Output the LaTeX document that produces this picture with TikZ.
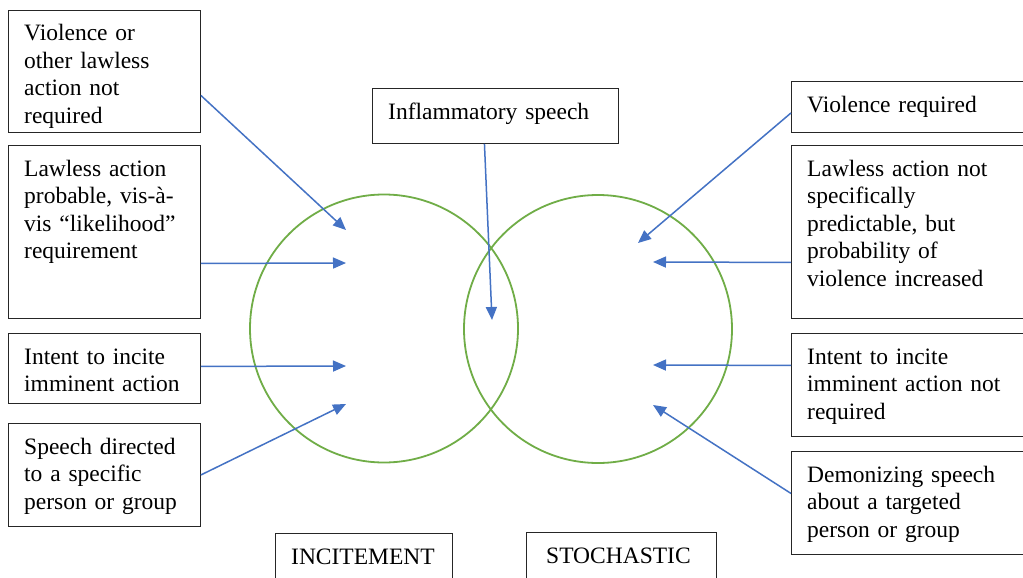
\documentclass[tikz,border=0pt]{standalone}
\usepackage{fontspec}
\setmainfont{Liberation Serif}
\usetikzlibrary{arrows.meta}
\definecolor{arrblue}{HTML}{4472C4}
\definecolor{circgreen}{HTML}{70AD47}
\tikzset{
  boxnode/.style={draw=black!85, line width=0.9pt, rectangle, inner sep=0pt, anchor=north west},
  txt/.style={inner sep=0pt, anchor=base west, text width=260pt, align=left, font=\fontsize{23.5}{27.5}\selectfont},
  conn/.style={draw=arrblue, line width=1.5pt, -{Triangle[length=13pt,width=11pt]}},
  venn/.style={draw=circgreen, line width=1.8pt}
}
\newcommand\bx[7][16]{%
  \node[boxnode, minimum width=#5pt, minimum height=#6pt] (#2) at (#3,#4) {};
  \node[txt] (#2t) at ([xshift=#1pt,yshift=-31pt]#2.north west) {#7};
}
\begin{document}
\begin{tikzpicture}[x=1pt,y=-1pt]
\clip (0,0) rectangle (1023,578);
\fill[white] (0,0) rectangle (1023,578);

% circles
\node[venn, circle, minimum size=268pt, inner sep=0pt] (lc) at (384,328.5) {};
\node[venn, circle, minimum size=268pt, inner sep=0pt] (rc) at (598,329) {};

% left boxes
\bx{b1}{8}{10}{192}{122}{Violence or\\other lawless\\action not\\required}
\bx{b2}{8}{145}{192}{173}{Lawless action\\probable, vis-à-\\vis “likelihood”\\requirement}
\bx{b3}{8}{333}{192}{70}{Intent to incite\\imminent action}
\bx{b4}{8}{423}{192}{103}{Speech directed\\to a specific\\person or group}

% middle and bottom
\bx{mid}{372}{88}{246}{55}{Inflammatory speech}
\bx{inc}{275}{533}{177}{60}{INCITEMENT}
\bx[20]{sto}{526}{532}{190}{60}{STOCHASTIC}

% right boxes
\bx{r1}{791}{81}{250}{51}{Violence required}
\bx{r2}{791}{145}{250}{173}{Lawless action not\\specifically\\predictable, but\\probability of\\violence increased}
\bx{r3}{791}{333}{250}{103}{Intent to incite\\imminent action not\\required}
\bx{r4}{791}{451}{250}{103}{Demonizing speech\\about a targeted\\person or group}

% arrow targets
\coordinate (t1) at (346,230);
\coordinate (t2) at (346,263);
\coordinate (t3) at (346,366);
\coordinate (t4) at (346,404);
\coordinate (t5) at (492,320);
\coordinate (u1) at (638,243);
\coordinate (u2) at (653,262);
\coordinate (u3) at (653,365);
\coordinate (u4) at (653,405);

% arrows
\draw[conn] ([yshift=-24pt]b1.east) -- (t1);
\draw[conn] ([yshift=-31.5pt]b2.east) -- (t2);
\draw[conn] ([yshift=2pt]b3.east) -- (t3);
\draw[conn] (b4.east) -- (t4);
\draw[conn] ([xshift=-11pt]mid.south) -- (t5);
\draw[conn] ([yshift=-6pt]r1.west) -- (u1);
\draw[conn] ([yshift=-30.5pt]r2.west) -- (u2);
\draw[conn] ([yshift=19.5pt]r3.west) -- (u3);
\draw[conn] ([yshift=9.5pt]r4.west) -- (u4);
\end{tikzpicture}
\end{document}
